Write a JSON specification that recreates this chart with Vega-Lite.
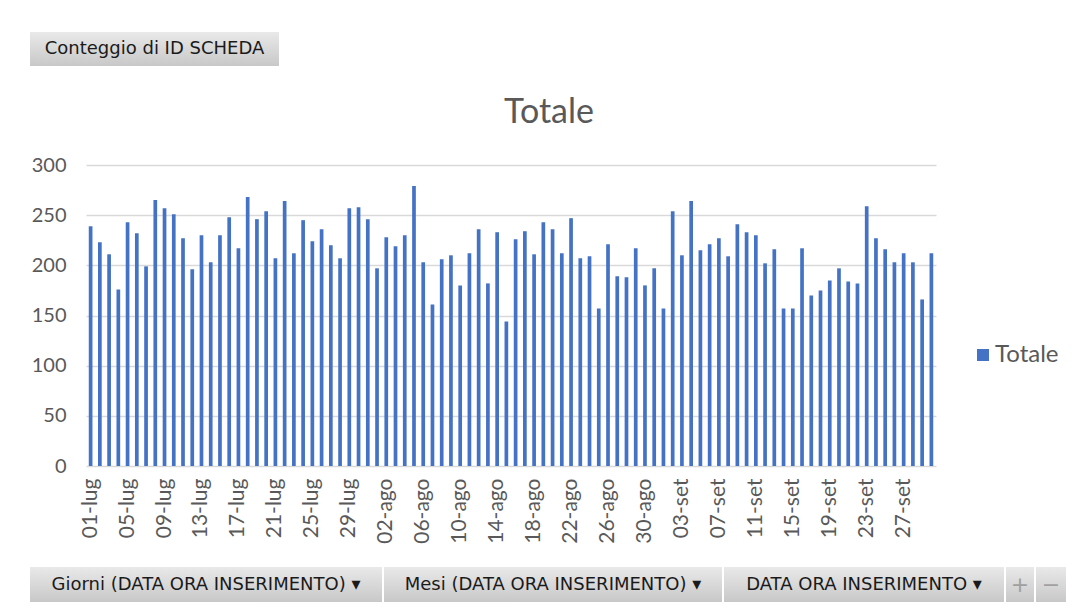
{
  "$schema": "https://vega.github.io/schema/vega-lite/v6.json",
  "background": "white",
  "padding": {"left": 30, "top": 32, "right": 0, "bottom": 0},
  "config": {"view": {"stroke": null}, "font": "Lato"},
  "spacing": 23,
  "vconcat": [
    {
      "spacing": 30,
      "vconcat": [
        {
          "width": 249,
          "height": 34,
          "data": {"values": [{"label": "Conteggio di ID SCHEDA"}]},
          "layer": [
            {"mark": {"type": "rect", "fill": {"gradient": "linear", "x1": 0, "y1": 0, "x2": 0, "y2": 1, "stops": [{"offset": 0, "color": "#e9e9e9"}, {"offset": 1, "color": "#c8c8c8"}]}}, "encoding": {}},
            {"mark": {"type": "text", "font": "DejaVu Sans", "fontSize": 18, "color": "#1a1a1a"}, "encoding": {"text": {"field": "label"}}}
          ]
        },
        {
          "spacing": 0,
          "hconcat": [
            {
              "width": 1,
              "height": 1,
              "data": {"values": [{"label": ""}]},
              "mark": {"type": "text"},
              "encoding": {"text": {"field": "label"}}
            },
            {
              "width": 850,
              "height": 301,
              "title": {"text": "Totale", "font": "Lato", "fontSize": 34, "fontWeight": "normal", "color": "#595959", "dx": 38, "offset": 25},
              "data": {"values": [
                {"giorno": "01-lug", "totale": 239}, {"giorno": "02-lug", "totale": 223}, {"giorno": "03-lug", "totale": 211}, {"giorno": "04-lug", "totale": 176}, {"giorno": "05-lug", "totale": 243}, {"giorno": "06-lug", "totale": 232}, {"giorno": "07-lug", "totale": 199}, {"giorno": "08-lug", "totale": 265}, {"giorno": "09-lug", "totale": 257}, {"giorno": "10-lug", "totale": 251},
                {"giorno": "11-lug", "totale": 227}, {"giorno": "12-lug", "totale": 196}, {"giorno": "13-lug", "totale": 230}, {"giorno": "14-lug", "totale": 203}, {"giorno": "15-lug", "totale": 230}, {"giorno": "16-lug", "totale": 248}, {"giorno": "17-lug", "totale": 217}, {"giorno": "18-lug", "totale": 268}, {"giorno": "19-lug", "totale": 246}, {"giorno": "20-lug", "totale": 254},
                {"giorno": "21-lug", "totale": 207}, {"giorno": "22-lug", "totale": 264}, {"giorno": "23-lug", "totale": 212}, {"giorno": "24-lug", "totale": 245}, {"giorno": "25-lug", "totale": 224}, {"giorno": "26-lug", "totale": 236}, {"giorno": "27-lug", "totale": 220}, {"giorno": "28-lug", "totale": 207}, {"giorno": "29-lug", "totale": 257}, {"giorno": "30-lug", "totale": 258},
                {"giorno": "31-lug", "totale": 246},
                {"giorno": "01-ago", "totale": 197}, {"giorno": "02-ago", "totale": 228}, {"giorno": "03-ago", "totale": 219}, {"giorno": "04-ago", "totale": 230}, {"giorno": "05-ago", "totale": 279}, {"giorno": "06-ago", "totale": 203}, {"giorno": "07-ago", "totale": 161}, {"giorno": "08-ago", "totale": 206}, {"giorno": "09-ago", "totale": 210}, {"giorno": "10-ago", "totale": 180},
                {"giorno": "11-ago", "totale": 212}, {"giorno": "12-ago", "totale": 236}, {"giorno": "13-ago", "totale": 182}, {"giorno": "14-ago", "totale": 233}, {"giorno": "15-ago", "totale": 144}, {"giorno": "16-ago", "totale": 226}, {"giorno": "17-ago", "totale": 234}, {"giorno": "18-ago", "totale": 211}, {"giorno": "19-ago", "totale": 243}, {"giorno": "20-ago", "totale": 236},
                {"giorno": "21-ago", "totale": 212}, {"giorno": "22-ago", "totale": 247}, {"giorno": "23-ago", "totale": 207}, {"giorno": "24-ago", "totale": 209}, {"giorno": "25-ago", "totale": 157}, {"giorno": "26-ago", "totale": 221}, {"giorno": "27-ago", "totale": 189}, {"giorno": "28-ago", "totale": 188}, {"giorno": "29-ago", "totale": 217}, {"giorno": "30-ago", "totale": 180},
                {"giorno": "31-ago", "totale": 197},
                {"giorno": "01-set", "totale": 157}, {"giorno": "02-set", "totale": 254}, {"giorno": "03-set", "totale": 210}, {"giorno": "04-set", "totale": 264}, {"giorno": "05-set", "totale": 215}, {"giorno": "06-set", "totale": 221}, {"giorno": "07-set", "totale": 227}, {"giorno": "08-set", "totale": 209}, {"giorno": "09-set", "totale": 241}, {"giorno": "10-set", "totale": 233},
                {"giorno": "11-set", "totale": 230}, {"giorno": "12-set", "totale": 202}, {"giorno": "13-set", "totale": 216}, {"giorno": "14-set", "totale": 157}, {"giorno": "15-set", "totale": 157}, {"giorno": "16-set", "totale": 217}, {"giorno": "17-set", "totale": 170}, {"giorno": "18-set", "totale": 175}, {"giorno": "19-set", "totale": 185}, {"giorno": "20-set", "totale": 197},
                {"giorno": "21-set", "totale": 184}, {"giorno": "22-set", "totale": 182}, {"giorno": "23-set", "totale": 259}, {"giorno": "24-set", "totale": 227}, {"giorno": "25-set", "totale": 216}, {"giorno": "26-set", "totale": 203}, {"giorno": "27-set", "totale": 212}, {"giorno": "28-set", "totale": 203}, {"giorno": "29-set", "totale": 166}, {"giorno": "30-set", "totale": 212}
              ]},
              "mark": {"type": "bar"},
              "encoding": {
                "x": {
                  "field": "giorno", "type": "nominal", "sort": null,
                  "scale": {"paddingInner": 0.6, "paddingOuter": 0.3},
                  "axis": {
                    "title": null,
                    "values": ["01-lug", "05-lug", "09-lug", "13-lug", "17-lug", "21-lug", "25-lug", "29-lug", "02-ago", "06-ago", "10-ago", "14-ago", "18-ago", "22-ago", "26-ago", "30-ago", "03-set", "07-set", "11-set", "15-set", "19-set", "23-set", "27-set"],
                    "labelAngle": -90, "labelFont": "Lato", "labelFontSize": 21, "labelColor": "#595959", "labelPadding": 12,
                    "ticks": false, "domain": false
                  }
                },
                "y": {
                  "field": "totale", "type": "quantitative",
                  "scale": {"domain": [0, 300]},
                  "axis": {
                    "title": null, "values": [0, 50, 100, 150, 200, 250, 300],
                    "labelFont": "Lato", "labelFontSize": 20, "labelColor": "#595959", "labelPadding": 20,
                    "ticks": false, "domain": false, "gridColor": "#d9d9d9", "gridWidth": 1.3
                  }
                },
                "color": {
                  "datum": "Totale",
                  "scale": {"range": ["#4472C4"]},
                  "legend": {
                    "title": null, "orient": "none", "legendX": 941, "legendY": 311,
                    "symbolType": "square", "symbolSize": 144, "symbolStrokeWidth": 0,
                    "labelFont": "Lato", "labelFontSize": 24, "labelColor": "#595959", "labelOffset": 0, "padding": 0
                  }
                }
              }
            }
          ]
        }
      ]
    },
    {
      "spacing": 2,
      "hconcat": [
        {
          "width": 352, "height": 35,
          "data": {"values": [{"label": "Giorni (DATA ORA INSERIMENTO)  ▾"}]},
          "layer": [
            {"mark": {"type": "rect", "fill": {"gradient": "linear", "x1": 0, "y1": 0, "x2": 0, "y2": 1, "stops": [{"offset": 0, "color": "#e9e9e9"}, {"offset": 1, "color": "#c8c8c8"}]}}, "encoding": {}},
            {"mark": {"type": "text", "font": "DejaVu Sans", "fontSize": 18, "color": "#1a1a1a"}, "encoding": {"text": {"field": "label"}}}
          ]
        },
        {
          "width": 338, "height": 35,
          "data": {"values": [{"label": "Mesi  (DATA ORA INSERIMENTO)  ▾"}]},
          "layer": [
            {"mark": {"type": "rect", "fill": {"gradient": "linear", "x1": 0, "y1": 0, "x2": 0, "y2": 1, "stops": [{"offset": 0, "color": "#e9e9e9"}, {"offset": 1, "color": "#c8c8c8"}]}}, "encoding": {}},
            {"mark": {"type": "text", "font": "DejaVu Sans", "fontSize": 18, "color": "#1a1a1a"}, "encoding": {"text": {"field": "label"}}}
          ]
        },
        {
          "width": 280, "height": 35,
          "data": {"values": [{"label": "DATA ORA INSERIMENTO  ▾"}]},
          "layer": [
            {"mark": {"type": "rect", "fill": {"gradient": "linear", "x1": 0, "y1": 0, "x2": 0, "y2": 1, "stops": [{"offset": 0, "color": "#e9e9e9"}, {"offset": 1, "color": "#c8c8c8"}]}}, "encoding": {}},
            {"mark": {"type": "text", "font": "DejaVu Sans", "fontSize": 18, "color": "#1a1a1a"}, "encoding": {"text": {"field": "label"}}}
          ]
        },
        {
          "width": 28, "height": 35,
          "data": {"values": [{"label": "+"}]},
          "layer": [
            {"mark": {"type": "rect", "fill": {"gradient": "linear", "x1": 0, "y1": 0, "x2": 0, "y2": 1, "stops": [{"offset": 0, "color": "#e9e9e9"}, {"offset": 1, "color": "#c8c8c8"}]}}, "encoding": {}},
            {"mark": {"type": "text", "font": "DejaVu Sans", "fontSize": 22, "color": "#a0a0a0"}, "encoding": {"text": {"field": "label"}}}
          ]
        },
        {
          "width": 30, "height": 35,
          "data": {"values": [{"label": "−"}]},
          "layer": [
            {"mark": {"type": "rect", "fill": {"gradient": "linear", "x1": 0, "y1": 0, "x2": 0, "y2": 1, "stops": [{"offset": 0, "color": "#e9e9e9"}, {"offset": 1, "color": "#c8c8c8"}]}}, "encoding": {}},
            {"mark": {"type": "text", "font": "DejaVu Sans", "fontSize": 22, "color": "#a0a0a0"}, "encoding": {"text": {"field": "label"}}}
          ]
        }
      ]
    }
  ]
}
